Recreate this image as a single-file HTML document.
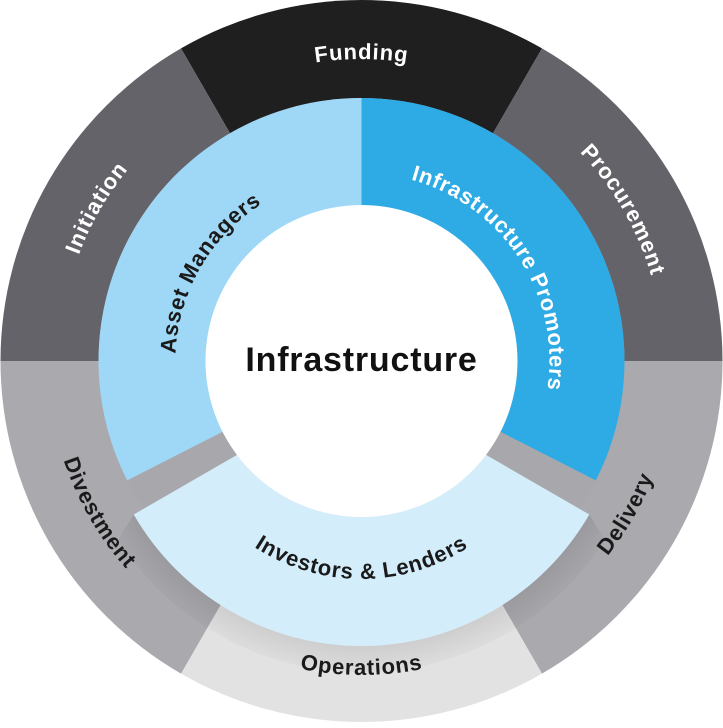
<!DOCTYPE html>
<html><head><meta charset="utf-8"><style>
html,body{margin:0;padding:0;background:#fff;}
svg{display:block}
text{font-family:"Liberation Sans",sans-serif;font-weight:bold;}
</style></head><body>
<svg width="723" height="728" viewBox="0 0 723 728" xmlns="http://www.w3.org/2000/svg">
<defs>
<radialGradient id="sh" cx="361.5" cy="383" r="300" gradientUnits="userSpaceOnUse">
<stop offset="0.86" stop-color="#000" stop-opacity="0.10"/>
<stop offset="1" stop-color="#000" stop-opacity="0"/>
</radialGradient>
<path id="pFund" d="M100,210 A302 302 0 0 1 623,210"/>
<path id="pProc" d="M361.5,59 A302 302 0 0 1 623,512"/>
<path id="pInit" d="M100,512 A302 302 0 0 1 361.5,59"/>
<path id="pOper" d="M89.6,518 A314 314 0 0 0 633.4,518"/>
<path id="pDeli" d="M361.5,675 A314 314 0 0 0 633.4,204"/>
<path id="pDive" d="M89.6,204 A314 314 0 0 0 361.5,675"/>
<path id="pAsset" d="M200.4,454 A186 186 0 0 1 361.5,175"/>
<path id="pProm" d="M351.7,173.3 A188 188 0 0 1 529,446.4"/>
<path id="pInv" d="M191.8,481 A196 196 0 0 0 531.2,481"/>
</defs>
<path d="M361.5,361 L181,48.4 A361 361 0 0 1 542,48.4 Z" fill="#1f1f1f"/>
<path d="M361.5,361 L542,48.4 A361 361 0 0 1 722.5,361 Z" fill="#636369"/>
<path d="M361.5,361 L722.5,361 A361 361 0 0 1 542,673.6 Z" fill="#a9a9ae"/>
<path d="M361.5,361 L542,673.6 A361 361 0 0 1 181,673.6 Z" fill="#e2e2e2"/>
<path d="M361.5,361 L181,673.6 A361 361 0 0 1 0.5,361 Z" fill="#a9a9ae"/>
<path d="M361.5,361 L0.5,361 A361 361 0 0 1 181,48.4 Z" fill="#636369"/>
<path d="M361.5,383 L133.7,514.5 L118,540 A290 290 0 0 0 605,540 L589.3,514.5 Z" fill="url(#sh)"/>
<circle cx="361.5" cy="361" r="263" fill="#a8a8ac"/>
<path d="M361.5,361 L127.2,480.4 A263 263 0 0 1 361.5,98 Z" fill="#9fd8f6"/>
<path d="M361.5,361 L361.5,98 A263 263 0 0 1 595.8,480.4 Z" fill="#2eaae4"/>
<path d="M361.5,383 L589.3,514.5 A263 263 0 0 1 133.7,514.5 Z" fill="#d4edfa"/>
<circle cx="361.5" cy="361" r="156" fill="#fff"/>
<text font-size="22" letter-spacing="0.8" fill="#fff"><textPath href="#pFund" startOffset="50%" text-anchor="middle">Funding</textPath></text>
<text font-size="22" letter-spacing="0.8" fill="#fff"><textPath href="#pProc" startOffset="50%" text-anchor="middle">Procurement</textPath></text>
<text font-size="22" letter-spacing="0.8" fill="#fff"><textPath href="#pInit" startOffset="50%" text-anchor="middle">Initiation</textPath></text>
<text font-size="22" letter-spacing="0.8" fill="#1a1a1a"><textPath href="#pOper" startOffset="50%" text-anchor="middle">Operations</textPath></text>
<text font-size="22" letter-spacing="0.8" fill="#1a1a1a"><textPath href="#pDeli" startOffset="50%" text-anchor="middle">Delivery</textPath></text>
<text font-size="22" letter-spacing="0.8" fill="#1a1a1a"><textPath href="#pDive" startOffset="50%" text-anchor="middle">Divestment</textPath></text>
<text font-size="22" letter-spacing="0.8" fill="#1a1a1a"><textPath href="#pAsset" startOffset="50%" text-anchor="middle">Asset Managers</textPath></text>
<text font-size="22" letter-spacing="0.6" fill="#fff"><textPath href="#pProm" startOffset="50%" text-anchor="middle">Infrastructure Promoters</textPath></text>
<text font-size="22" letter-spacing="0.8" fill="#1a1a1a"><textPath href="#pInv" startOffset="50%" text-anchor="middle">Investors &amp; Lenders</textPath></text>
<text x="361.5" y="371" font-size="34" letter-spacing="0.8" fill="#111" text-anchor="middle">Infrastructure</text>
</svg>
</body></html>
